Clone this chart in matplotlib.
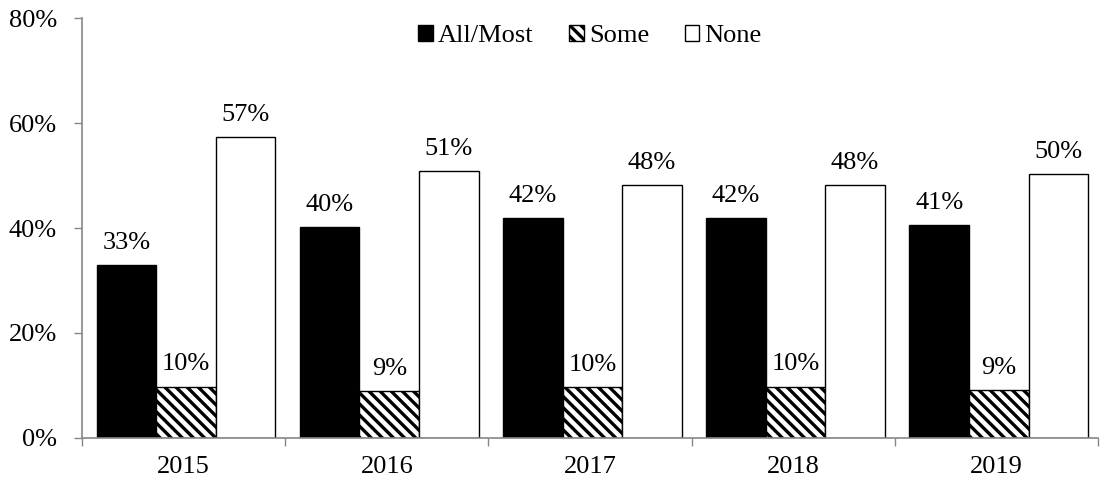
import matplotlib
matplotlib.use("Agg")
import matplotlib.pyplot as plt
import numpy as np

years = ["2015", "2016", "2017", "2018", "2019"]
all_most = [32.9, 40.2, 41.9, 41.9, 40.6]
some = [9.8, 9.0, 9.7, 9.8, 9.2]
none = [57.3, 50.9, 48.1, 48.2, 50.2]
series_names = ["All/Most", "Some", "None"]

plt.rcParams['font.family'] = ['Liberation Serif', 'DejaVu Serif']
plt.rcParams['hatch.linewidth'] = 2.4
plt.rcParams['hatch.color'] = 'black'

fig = plt.figure(figsize=(11.09, 4.83), dpi=100)
ax = fig.add_axes([0.074, 0.0932, 0.916, 0.8695])

x = np.arange(len(years))
w = 0.293
gray = '#868686'
fs = 19

styles = [dict(facecolor='black', edgecolor='black', hatch=None),
          dict(facecolor='white', edgecolor='black', hatch='\\\\\\'),
          dict(facecolor='white', edgecolor='black', hatch=None)]
handles = []
for i, (vals, st) in enumerate(zip([all_most, some, none], styles)):
    pos = x + (i - 1) * w + 0.012
    bars = ax.bar(pos, vals, width=w, linewidth=1.0, label=series_names[i], **st)
    handles.append(bars)
    for xi, v in zip(pos, vals):
        ax.annotate(f"{round(v):d}%", (xi, v), xytext=(0, 8), textcoords='offset points',
                    ha='center', va='bottom', fontsize=fs)

ax.set_xlim(-0.5, len(years) - 0.5)
ax.set_ylim(0, 80)
ax.set_yticks(np.arange(0, 81, 20))
ax.set_yticklabels([f"{v}%" for v in range(0, 81, 20)], fontsize=fs)
ax.set_xticks(x)
ax.set_xticklabels(years, fontsize=fs)
ax.tick_params(axis='x', length=0, pad=13)
ax.set_xticks(np.arange(-0.5, len(years), 1), minor=True)
ax.tick_params(axis='x', which='minor', length=6, color=gray, width=1)
ax.tick_params(axis='y', length=6, color=gray, width=1, pad=12)

for s in ['top', 'right']:
    ax.spines[s].set_visible(False)
for s in ['left', 'bottom']:
    ax.spines[s].set_color(gray)
    ax.spines[s].set_linewidth(1.2)

leg = ax.legend(handles=handles, loc='upper center', bbox_to_anchor=(0.5, 1.04), ncol=3,
                frameon=False, fontsize=fs, handlelength=0.55, handleheight=0.55,
                handletextpad=0.2, columnspacing=1.35)

fig.savefig("out.png", dpi=100)
